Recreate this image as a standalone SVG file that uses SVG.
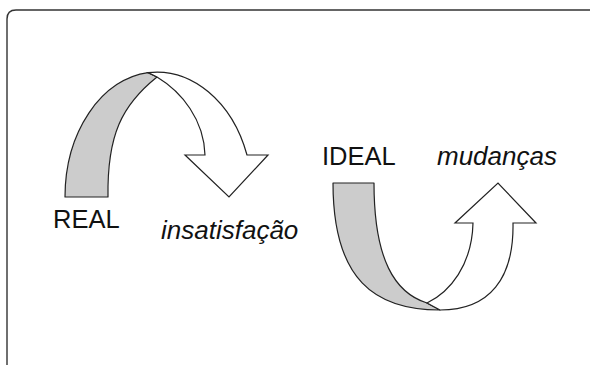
<svg xmlns="http://www.w3.org/2000/svg" width="592" height="365" viewBox="0 0 592 365">
  <style>
    .frame { fill: none; stroke: #333; stroke-width: 1.4; }
    .back { fill: #cccccc; stroke: #222; stroke-width: 1.2; stroke-linejoin: round; }
    .front { fill: #ffffff; stroke: #222; stroke-width: 1.2; stroke-linejoin: miter; }
    .label { font-family: "Liberation Sans", Arial, sans-serif; font-size: 25.5px; fill: #111; }
    .em { font-style: italic; font-size: 26px; }
  </style>
  <rect width="592" height="365" fill="#ffffff"/>

  <!-- open frame: left side and top, rounded corner -->
  <path class="frame" d="M7,365 V19 Q7,10 16,10 H590"/>

  <!-- downward curved arrow: REAL -> insatisfação -->
  <g id="arrow-down">
    <path class="back" d="M65,197 A92,125 0 0 1 148,72.6 L157,77 C122,105 107,135 108,197 Z"/>
    <path class="front" d="M148,72.6 A96,125 0 0 1 247,155 L268,155 L229,197 L185,155 L205,155 C204,120 182,92 157,77 Z"/>
  </g>

  <!-- upward curved arrow: IDEAL -> mudanças -->
  <g id="arrow-up">
    <path class="back" d="M333,183 L374,183 C374,260 395,293 427,303 L440,310 C375,310 333,280 333,183 Z"/>
    <path class="front" d="M440,310 C490,310 514,278 513,223 L536,223 L498,183 L455,223 L473,223 C472,265 450,292 427,303 Z"/>
  </g>

  <g id="label-real"><text class="label" x="53" y="228">REAL</text></g>
  <g id="label-insatisfacao"><text class="label em" x="161" y="239">insatisfação</text></g>
  <g id="label-ideal"><text class="label" x="322" y="165">IDEAL</text></g>
  <g id="label-mudancas"><text class="label em" x="437" y="165">mudanças</text></g>
</svg>
